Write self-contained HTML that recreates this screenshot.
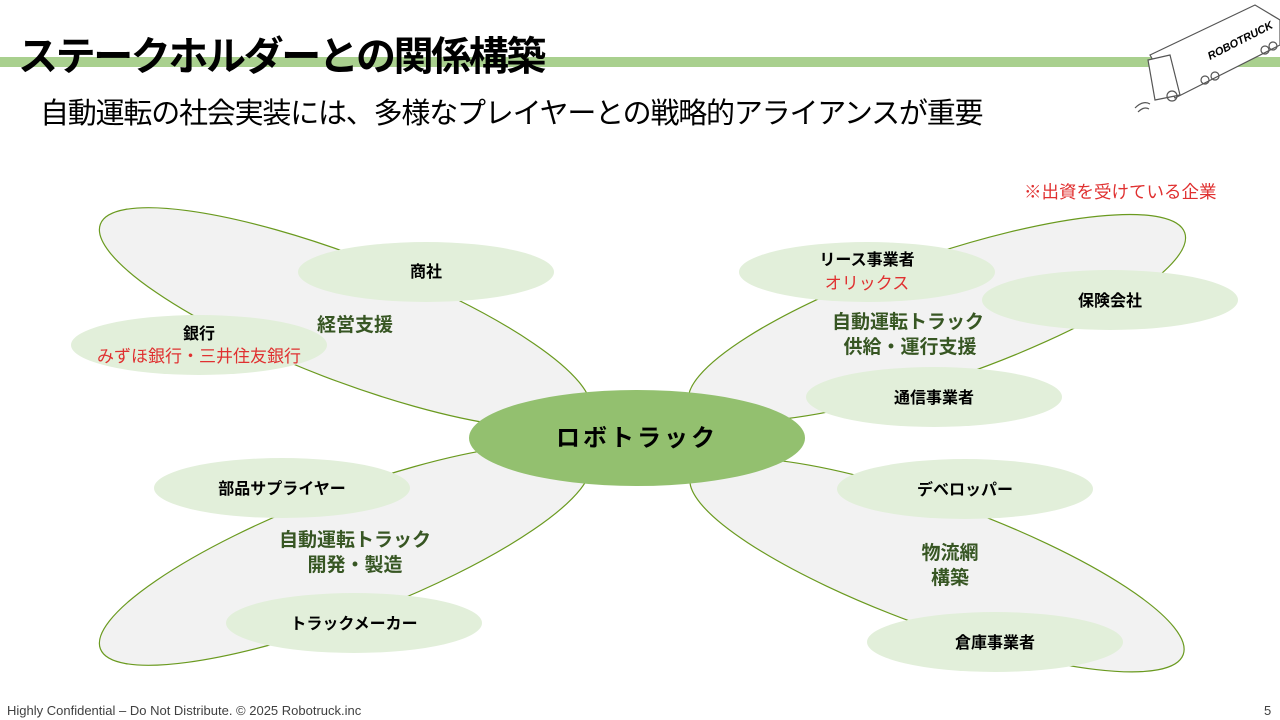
<!DOCTYPE html>
<html><head><meta charset="utf-8"><style>
html,body{margin:0;padding:0;background:#fff;}
body{width:1280px;height:720px;position:relative;overflow:hidden;font-family:"Liberation Sans","Noto Sans CJK JP",sans-serif;}
.t{position:absolute;white-space:nowrap;}
</style></head><body>
<div style="position:absolute;left:0;top:57px;width:1280px;height:10px;background:#a9d08e"></div>
<div class="t" style="left:18px;top:24px;font-size:40px;font-weight:bold;color:#000;letter-spacing:-2.4px">ステークホルダーとの関係構築</div>
<div class="t" style="left:40px;top:90px;font-size:29px;color:#000;letter-spacing:-1.2px">自動運転の社会実装には、多様なプレイヤーとの戦略的アライアンスが重要</div>
<div class="t" style="left:1024px;top:179px;font-size:17.5px;color:#e03030">※出資を受けている企業</div>
<svg width="1280" height="720" style="position:absolute;left:0;top:0" xmlns="http://www.w3.org/2000/svg">
<g fill="none" stroke="#555" stroke-width="1.2">
 <path d="M1150 55 L1255 5 L1280 20 L1280 45 L1175 98 Z" fill="#fff"/>
 <path d="M1148 60 L1170 55 L1180 95 L1155 100 Z" fill="#fff"/>
 <circle cx="1172" cy="96" r="5"/><circle cx="1205" cy="80" r="4"/><circle cx="1215" cy="76" r="4"/><circle cx="1265" cy="50" r="4"/><circle cx="1273" cy="46" r="4"/>
 <path d="M1135 108 q8 -8 15 -4 M1138 112 q6 -6 11 -3"/>
</g>
<text x="1210" y="60" font-size="11" font-weight="bold" font-style="italic" transform="rotate(-27 1210 60)" font-family="Liberation Sans">ROBOTRUCK</text>
<g fill="#f2f2f2" stroke="#6a9a1f" stroke-width="1.2">
 <ellipse cx="345" cy="318" rx="262" ry="62" transform="rotate(21 345 318)"/>
 <ellipse cx="937" cy="318" rx="262" ry="62" transform="rotate(-19 937 318)"/>
 <ellipse cx="345" cy="555" rx="262" ry="62" transform="rotate(-21 345 555)"/>
 <ellipse cx="937" cy="565" rx="262" ry="62" transform="rotate(20 937 565)"/>
</g>
<g fill="#e2efda">
 <ellipse cx="426" cy="272" rx="128" ry="30"/>
 <ellipse cx="199" cy="345" rx="128" ry="30"/>
 <ellipse cx="867" cy="272" rx="128" ry="30"/>
 <ellipse cx="1110" cy="300" rx="128" ry="30"/>
 <ellipse cx="934" cy="397" rx="128" ry="30"/>
 <ellipse cx="282" cy="488" rx="128" ry="30"/>
 <ellipse cx="354" cy="623" rx="128" ry="30"/>
 <ellipse cx="965" cy="489" rx="128" ry="30"/>
 <ellipse cx="995" cy="642" rx="128" ry="30"/>
</g>
<ellipse cx="637" cy="438" rx="168" ry="48" fill="#93c06f"/>
<g font-family="Liberation Sans,Noto Sans CJK JP,sans-serif" text-anchor="middle" font-weight="bold">
 <text x="637" y="446" font-size="24" letter-spacing="3" fill="#000">ロボトラック</text>
 <g font-size="16" fill="#000">
  <text x="426" y="277">商社</text>
  <text x="199" y="339">銀行</text>
  <text x="867" y="265">リース事業者</text>
  <text x="1110" y="306">保険会社</text>
  <text x="934" y="403">通信事業者</text>
  <text x="282" y="494">部品サプライヤー</text>
  <text x="354" y="629">トラックメーカー</text>
  <text x="965" y="495">デベロッパー</text>
  <text x="995" y="648">倉庫事業者</text>
 </g>
 <g font-size="17" fill="#e03030" font-weight="normal">
  <text x="199" y="362">みずほ銀行・三井住友銀行</text>
  <text x="867" y="289">オリックス</text>
 </g>
 <g font-size="19" fill="#375623">
  <text x="355" y="331">経営支援</text>
  <text x="908" y="328">自動運転トラック</text>
  <text x="910" y="353">供給・運行支援</text>
  <text x="355" y="546">自動運転トラック</text>
  <text x="355" y="571">開発・製造</text>
  <text x="950" y="559">物流網</text>
  <text x="950" y="584">構築</text>
 </g>
</g>
</svg>
<div class="t" style="left:7px;top:703px;font-size:13px;color:#404040">Highly Confidential – Do Not Distribute. © 2025 Robotruck.inc</div>
<div class="t" style="left:1264px;top:703px;font-size:13px;color:#404040">5</div>
</body></html>
